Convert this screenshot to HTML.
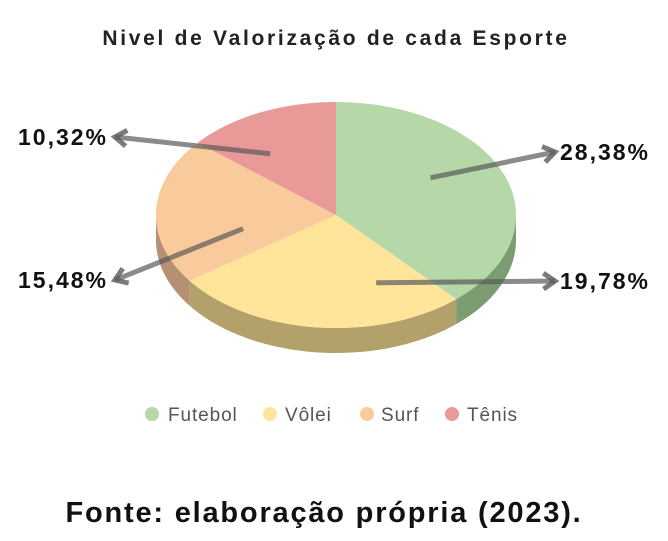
<!DOCTYPE html>
<html><head><meta charset="utf-8"><style>
body{margin:0;background:#fff;width:668px;height:536px;overflow:hidden;font-family:"Liberation Sans",sans-serif}
</style></head><body>
<svg id="chart" width="668" height="536" xmlns="http://www.w3.org/2000/svg">
<text x="336" y="45" text-anchor="middle" font-size="21" font-weight="bold" letter-spacing="2.7" fill="#222">Nivel de Valorização de cada Esporte</text>
<g id="sides"></g><g id="tops"></g><g id="arrows"></g>
<g font-size="19" letter-spacing="0.9" fill="#555">
<circle cx="152" cy="414" r="7" fill="#b6d7a8"/><text x="168" y="421">Futebol</text>
<circle cx="270" cy="414" r="7" fill="#ffe599"/><text x="285" y="421">Vôlei</text>
<circle cx="367" cy="414" r="7" fill="#f9cb9c"/><text x="381" y="421">Surf</text>
<circle cx="452" cy="414" r="7" fill="#ea9999"/><text x="467" y="421">Tênis</text>
</g>
<text x="324" y="522" text-anchor="middle" font-size="29" font-weight="bold" letter-spacing="1.8" fill="#111">Fonte: elaboração própria (2023).</text>
</svg>
<script>
const categories=["Futebol","Vôlei","Surf","Tênis"];
const values=[28.38,19.78,15.48,10.32];
const valueLabels=["28,38%","19,78%","15,48%","10,32%"];
const colors=["#b6d7a8","#ffe599","#f9cb9c","#ea9999"];
const sideColors=["#7c9c72","#b3a16b","#b59072","#b07070"];
const labelPos=[[560,160,"start"],[560,289,"start"],[108,288,"end"],[108,145,"end"]];
const arrowOffsets=[[2,-15],[51,6],[6,16],[-24,-5]];
const cx=336,cy=215,rx=180,ry=113,depth=25;
const NS="http://www.w3.org/2000/svg";
const total=values.reduce((a,b)=>a+b,0);
function pt(a,f=1,dy=0){return [cx+rx*f*Math.sin(a),cy-ry*f*Math.cos(a)+dy];}
const sides=document.getElementById('sides'),tops=document.getElementById('tops'),arrows=document.getElementById('arrows');
let start=0;
values.forEach((v,i)=>{
  const sweep=v/total*2*Math.PI,end=start+sweep;
  const s=Math.max(start,Math.PI/2),e=Math.min(end,3*Math.PI/2);
  if(e>s){
    let pts=[];
    for(let k=0;k<=40;k++){pts.push(pt(s+(e-s)*k/40));}
    for(let k=40;k>=0;k--){pts.push(pt(s+(e-s)*k/40,1,depth));}
    const p=document.createElementNS(NS,'polygon');
    p.setAttribute('points',pts.map(q=>q.join(',')).join(' '));
    p.setAttribute('fill',sideColors[i]);
    
    
    sides.appendChild(p);
  }
  let pts=[[cx,cy]];
  for(let k=0;k<=60;k++)pts.push(pt(start+sweep*k/60));
  const p=document.createElementNS(NS,'polygon');
  p.setAttribute('points',pts.map(q=>q.join(',')).join(' '));
  p.setAttribute('fill',colors[i]);
  
  
  tops.appendChild(p);
  const m=start+sweep/2,a0=pt(m,0.55),a=[a0[0]+arrowOffsets[i][0],a0[1]+arrowOffsets[i][1]],lp=labelPos[i];
  const ex=lp[2]==="start"?lp[0]-5:lp[0]+7,ey=lp[1]-8;
  const l=document.createElementNS(NS,'line');
  l.setAttribute('x1',a[0]);l.setAttribute('y1',a[1]);l.setAttribute('x2',ex);l.setAttribute('y2',ey);
  l.setAttribute('stroke','rgba(90,90,90,0.7)');l.setAttribute('stroke-width','5');
  
  
  arrows.appendChild(l);
  const ang=Math.atan2(ey-a[1],ex-a[0]);
  const h=document.createElementNS(NS,'polyline');
  const b1=[ex-14*Math.cos(ang-0.6),ey-14*Math.sin(ang-0.6)],b2=[ex-14*Math.cos(ang+0.6),ey-14*Math.sin(ang+0.6)];
  h.setAttribute('points',b1.join(',')+' '+ex+','+ey+' '+b2.join(','));
  h.setAttribute('fill','none');h.setAttribute('stroke','rgba(90,90,90,0.8)');h.setAttribute('stroke-width','5');
  
  
  arrows.appendChild(h);
  const t=document.createElementNS(NS,'text');
  t.setAttribute('x',lp[0]);t.setAttribute('y',lp[1]);
  t.setAttribute('text-anchor',lp[2]);t.setAttribute('font-size','23');t.setAttribute('font-weight','bold');t.setAttribute('letter-spacing','2');t.setAttribute('fill','#111');
  t.textContent=valueLabels[i];
  
  
  arrows.appendChild(t);
  start=end;
});
</script>
</body></html>
